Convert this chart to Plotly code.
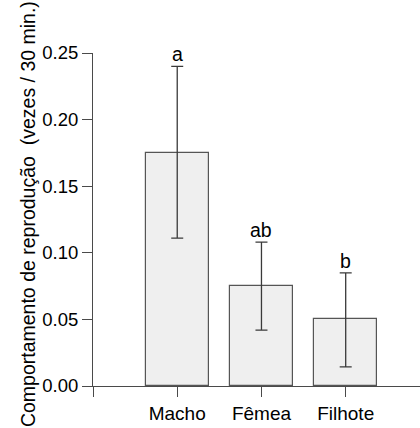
import plotly.graph_objects as go

categories = ["Macho", "Fêmea", "Filhote"]
positions = [1, 2, 3]
means = [0.175, 0.075, 0.050]
err_plus = [0.065, 0.033, 0.035]
err_minus = [0.064, 0.033, 0.0357]
letters = ["a", "ab", "b"]
y_ticks = [0.00, 0.05, 0.10, 0.15, 0.20, 0.25]
y_title = "Comportamento de reprodução\u00a0\u00a0(vezes / 30 min.)"

FONT = "Liberation Sans, Arial, sans-serif"
AX = "#4a4a4a"
TXT = "#000000"

fig = go.Figure()
fig.add_trace(go.Bar(
    x=positions, y=means, width=0.75,
    marker=dict(color="#efefef", line=dict(color="#555555", width=1.2)),
    error_y=dict(type="data", symmetric=False, array=err_plus, arrayminus=err_minus,
                 color="#3a3a3a", thickness=1.3, width=6),
    showlegend=False,
))

for p, m, e, t in zip(positions, means, err_plus, letters):
    fig.add_annotation(x=p, y=m + e, text=t, showarrow=False, xref="x", yref="y",
                       yanchor="bottom", yshift=-1,
                       font=dict(family=FONT, size=19.5, color=TXT))

fig.add_annotation(x=-0.2, y=0.5, xref="paper", yref="paper", text=y_title,
                   textangle=-90, showarrow=False, xanchor="center", yanchor="middle",
                   yshift=5, font=dict(family=FONT, size=19.5, color=TXT))

fig.update_layout(
    width=420, height=428,
    margin=dict(l=93, r=0, t=53, b=42),
    paper_bgcolor="white", plot_bgcolor="white",
    font=dict(family=FONT, size=19, color=TXT),
    bargap=0,
)
fig.update_xaxes(range=[0, 3.882], tickmode="array", tickvals=[0] + positions,
                 ticktext=[""] + categories, ticks="outside", ticklen=10, tickwidth=1,
                 tickcolor=AX, showline=True, linecolor=AX, linewidth=1,
                 tickfont=dict(family=FONT, size=19, color=TXT),
                 showgrid=False, zeroline=False, fixedrange=True)
fig.update_yaxes(range=[0, 0.25], tickmode="array", tickvals=y_ticks,
                 ticktext=[f"{v:.2f}" for v in y_ticks], ticks="outside", ticklen=10,
                 tickwidth=1, tickcolor=AX, showline=True, linecolor=AX, linewidth=1,
                 tickfont=dict(family=FONT, size=18.5, color=TXT),
                 showgrid=False, zeroline=False, fixedrange=True)

fig.write_html("out.html", config={"displayModeBar": False})
